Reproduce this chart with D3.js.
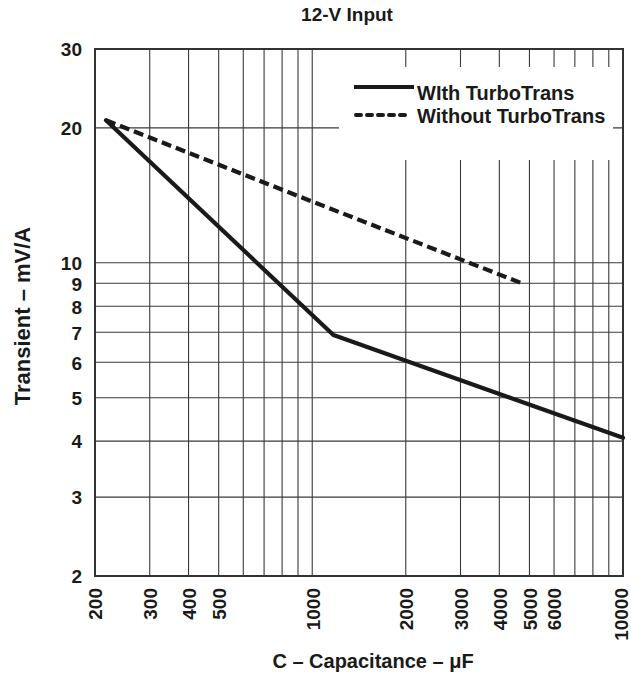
<!DOCTYPE html>
<html>
<head>
<meta charset="utf-8">
<script src="https://cdn.jsdelivr.net/npm/d3@7"></script>
<style>
  html, body { margin: 0; padding: 0; background: #fff; }
  svg { display: block; }
  text { font-family: "Liberation Sans", Arial, Helvetica, sans-serif; font-weight: bold; fill: #1a1a1a; }
</style>
</head>
<body>
<svg id="chart" width="631" height="677"></svg>
<script>
// ---- data ----
const title = "12-V Input";
const xLabel = "C \u2013 Capacitance \u2013 \u03BCF";
const yLabel = "Transient \u2013 mV/A";
const seriesNames = ["WIth TurboTrans", "Without TurboTrans"];
const capWith = [217, 1170, 10000];
const transWith = [20.8, 6.9, 4.07];
const capWithout = [217, 1000, 4670];
const transWithout = [20.8, 13.7, 9.03];
const xTickValues = [200, 300, 400, 500, 1000, 2000, 3000, 4000, 5000, 6000, 10000];
const yTickValues = [2, 3, 4, 5, 6, 7, 8, 9, 10, 20, 30];
const xGridValues = [200, 300, 400, 500, 600, 700, 800, 900, 1000, 2000, 3000, 4000, 5000, 6000, 7000, 8000, 9000, 10000];
const yGridValues = [2, 3, 4, 5, 6, 7, 8, 9, 10, 20, 30];

// ---- layout ----
const svg = d3.select("#chart");
const L = 95, R = 623, T = 49, B = 576;
const x = d3.scaleLog().domain([200, 10000]).range([L, R]);
const y = d3.scaleLog().domain([2, 30]).range([B, T]);
const ink = "#1a1a1a";

// grid
const grid = svg.append("g");
grid.selectAll("line.v").data(xGridValues).join("line")
  .attr("x1", d => x(d)).attr("x2", d => x(d))
  .attr("y1", T).attr("y2", B)
  .attr("stroke", "#3a3a3a").attr("stroke-width", 1.1);
grid.selectAll("line.h").data(yGridValues).join("line")
  .attr("y1", d => y(d)).attr("y2", d => y(d))
  .attr("x1", L).attr("x2", R)
  .attr("stroke", "#3a3a3a").attr("stroke-width", 1.1);

// legend backdrop (blanks grid)
svg.append("rect").attr("x", 339).attr("y", 67).attr("width", 274).attr("height", 93).attr("fill", "#fff");

// frame
svg.append("rect").attr("x", L).attr("y", T).attr("width", R - L).attr("height", B - T)
  .attr("fill", "none").attr("stroke", "#333").attr("stroke-width", 2);

// axes (labels only)
const xAxis = d3.axisBottom(x).tickValues(xTickValues).tickFormat(d3.format("d")).tickSize(0);
const gx = svg.append("g").attr("transform", `translate(0,${B})`).call(xAxis);
gx.select(".domain").remove();
gx.selectAll("text")
  .attr("transform", "rotate(-90)")
  .attr("x", -12).attr("y", 0)
  .attr("dy", d => d === 10000 ? "0.25em" : "0.36em")
  .attr("text-anchor", "end")
  .style("font-size", "19px").style("font-family", "Liberation Sans, Arial, sans-serif").style("font-weight", "bold").attr("fill", ink);

const yAxis = d3.axisLeft(y).tickValues(yTickValues).tickFormat(d3.format("d")).tickSize(0);
const gy = svg.append("g").attr("transform", `translate(${L},0)`).call(yAxis);
gy.select(".domain").remove();
gy.selectAll("text")
  .attr("x", -13).attr("dy", "0.36em")
  .style("font-size", "19px").style("font-family", "Liberation Sans, Arial, sans-serif").style("font-weight", "bold").attr("fill", ink);

// lines
const lineGen = d3.line().x(d => x(d[0])).y(d => y(d[1]));
const withData = capWith.map((c, i) => [c, transWith[i]]);
const withoutData = capWithout.map((c, i) => [c, transWithout[i]]);
svg.append("path").datum(withData).attr("d", lineGen)
  .attr("fill", "none").attr("stroke", ink).attr("stroke-width", 4.2).attr("stroke-linejoin", "round").attr("stroke-linecap", "round");
svg.append("path").datum(withoutData).attr("d", lineGen)
  .attr("fill", "none").attr("stroke", ink).attr("stroke-width", 4.2).attr("stroke-dasharray", "10,5");

// legend
svg.append("line").attr("x1", 354).attr("x2", 414).attr("y1", 87).attr("y2", 87)
  .attr("stroke", ink).attr("stroke-width", 4);
svg.append("text").attr("x", 417).attr("y", 100).style("font-size", "20px").text(seriesNames[0]);
svg.append("line").attr("x1", 356).attr("x2", 408).attr("y1", 115).attr("y2", 115)
  .attr("stroke", ink).attr("stroke-width", 4).attr("stroke-dasharray", "5,6").attr("stroke-linecap", "round");
svg.append("text").attr("x", 417).attr("y", 123).style("font-size", "20px").text(seriesNames[1]);

// titles
svg.append("text").attr("x", 347).attr("y", 21).attr("text-anchor", "middle").style("font-size", "19px").text(title);
svg.append("text").attr("x", 373).attr("y", 668).attr("text-anchor", "middle").style("font-size", "20px").text(xLabel);
svg.append("text").attr("transform", "translate(30,316) rotate(-90)").attr("text-anchor", "middle").style("font-size", "22px").text(yLabel);
</script>
</body>
</html>
